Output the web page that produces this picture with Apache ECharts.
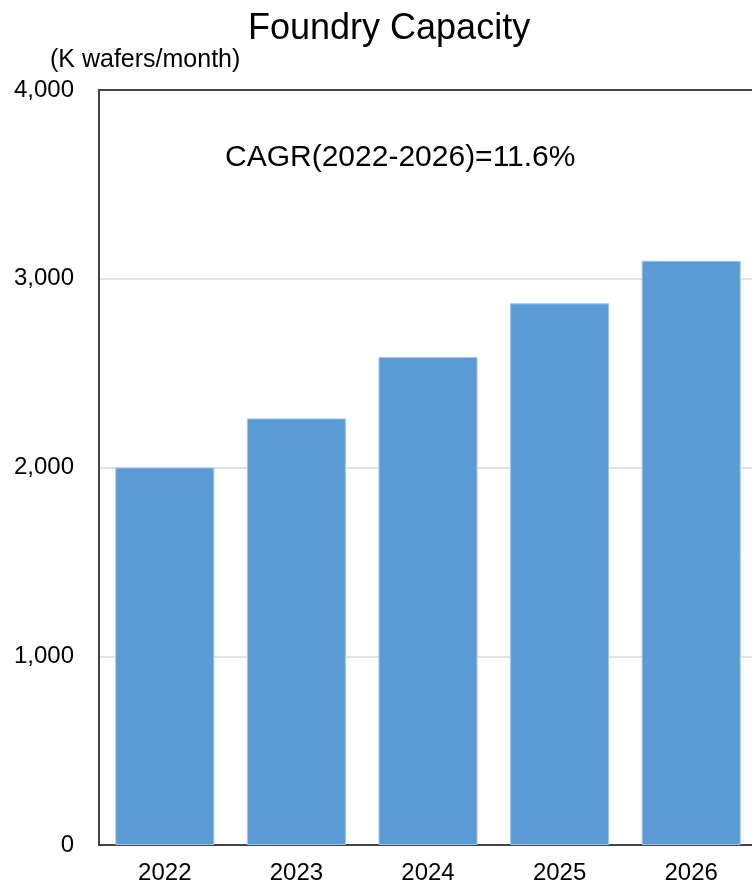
<!DOCTYPE html>
<html>
<head>
<meta charset="utf-8">
<title>Foundry Capacity</title>
<script src="https://cdn.jsdelivr.net/npm/echarts@6/dist/echarts.min.js"></script>
<style>
  html, body { margin: 0; padding: 0; background: #fff; }
  #chart { width: 752px; height: 882px; }
</style>
</head>
<body>
<div id="chart"></div>
<script>
// Foundry capacity by year, in thousands of wafers per month
const years = ['2022', '2023', '2024', '2025', '2026'];
const capacity = [2000, 2260, 2585, 2870, 3095];
const yTicks = { min: 0, max: 4000, interval: 1000 };
const chartTitle = 'Foundry Capacity';
const unitLabel = '(K wafers/month)';
const cagrNote = 'CAGR(2022-2026)=11.6%';

const FONT = '"Liberation Sans", Arial, Helvetica, sans-serif';

const chart = echarts.init(document.getElementById('chart'), null, { renderer: 'canvas' });

chart.setOption({
  backgroundColor: '#ffffff',
  animation: false,
  title: {
    text: chartTitle,
    left: 248,
    top: 11,
    padding: 0,
    textStyle: { fontFamily: FONT, fontSize: 36, fontWeight: 'normal', color: '#000' }
  },
  grid: {
    left: 99,
    top: 90,
    width: 658,
    height: 755,
    outerBoundsMode: 'none',
    containLabel: false,
    show: true,
    borderColor: '#444',
    borderWidth: 2,
    backgroundColor: 'transparent'
  },
  xAxis: {
    type: 'category',
    data: years,
    axisTick: { show: false },
    axisLine: { show: true, lineStyle: { color: '#444', width: 2 } },
    axisLabel: { fontFamily: FONT, fontSize: 24, color: '#000', margin: 16 }
  },
  yAxis: {
    type: 'value',
    min: yTicks.min,
    max: yTicks.max,
    interval: yTicks.interval,
    axisTick: { show: false },
    axisLine: { show: true, lineStyle: { color: '#444', width: 2 } },
    splitLine: {
      show: true,
      showMinLine: false,
      showMaxLine: false,
      lineStyle: { color: '#d9d9d9', width: 1.5 }
    },
    axisLabel: {
      fontFamily: FONT, fontSize: 24, color: '#000', margin: 25,
      formatter: v => v.toLocaleString('en-US')
    }
  },
  series: [{
    type: 'bar',
    data: capacity,
    barWidth: 99,
    itemStyle: { color: '#5b9bd5', borderColor: '#9fc4e8', borderWidth: 1 }
  }],
  graphic: [
    {
      type: 'text',
      left: 50,
      top: 48,
      style: { text: unitLabel, font: '25px ' + FONT, fill: '#000' }
    },
    {
      type: 'text',
      left: 225,
      top: 143,
      style: { text: cagrNote, font: '30px ' + FONT, fill: '#000' }
    }
  ]
});
</script>
</body>
</html>
